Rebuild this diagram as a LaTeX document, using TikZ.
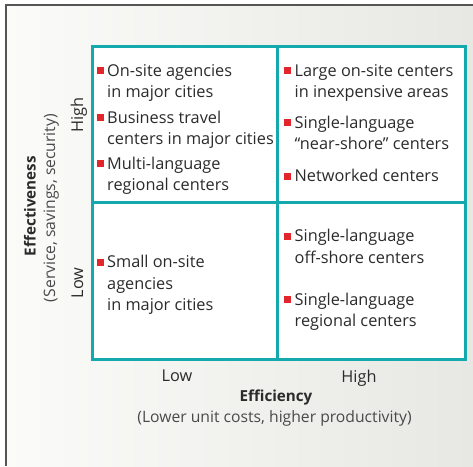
\documentclass[tikz,border=0pt]{standalone}
\usepackage{fontspec}
\setmainfont{Open Sans}
\definecolor{ink}{HTML}{2B2B2B}
\definecolor{softink}{HTML}{4A4A4A}
\definecolor{teal}{HTML}{14AAAD}
\definecolor{bulletred}{HTML}{E3262B}
\definecolor{framegray}{HTML}{555555}
\definecolor{bgleft}{HTML}{FBFBF9}
\definecolor{bgright}{HTML}{E7E7E3}
\begin{document}
\begin{tikzpicture}[x=1pt,y=-1pt,
  every node/.style={inner sep=0pt, text=ink},
  % multi-line items are placed by the baseline of their last line
  body/.style={font=\fontsize{16.3}{21.5}\selectfont, anchor=base west, align=left},
  bul/.style={fill=bulletred, minimum size=7pt, inner sep=0pt},
  axislbl/.style={font=\fontsize{16.3}{18}\selectfont, anchor=base},
  axistitle/.style={font=\fontsize{15.2}{18}\selectfont\bfseries, anchor=base},
  axissub/.style={font=\fontsize{15.7}{18}\selectfont, text=softink, anchor=base},
  gridline/.style={draw=teal, line width=3pt}]
% page and shaded panel with its frame
\useasboundingbox (0,0) rectangle (473,466);
\fill[white] (0,0) rectangle (473,466);
\shade[left color=bgleft, right color=bgright] (5,5) rectangle (473,466);
\coordinate (ftl) at (6,5);
\coordinate (ftr) at (473,5);
\coordinate (fbl) at (6,466);
\draw[framegray, line width=2pt] (fbl) -- (ftl) -- (ftr);

% 2x2 matrix
\coordinate (gtl) at (92.5,46.5);
\coordinate (gbr) at (465.5,359.5);
\coordinate (gmid) at (277.5,202.5);
\fill[white] (gtl) rectangle (gbr);
\draw[gridline] (gtl) rectangle (gbr);
\draw[gridline] (gmid |- gtl) -- (gmid |- gbr);
\draw[gridline] (gtl |- gmid) -- (gbr |- gmid);

% high effectiveness, low efficiency
\node[bul] (b1) at (100.5,70.5) {};
\node[body] (t1) at (107,97.5) {On-site agencies\\in major cities};
\node[bul] (b2) at (100.5,117.5) {};
\node[body] (t2) at (107,144.5) {Business travel\\centers in major cities};
\node[bul] (b3) at (100.5,163.5) {};
\node[body] (t3) at (107,190.5) {Multi-language\\regional centers};

% high effectiveness, high efficiency
\node[bul] (b4) at (287,70.5) {};
\node[body] (t4) at (294.5,97.5) {Large on-site centers\\in inexpensive areas};
\node[bul] (b5) at (287,122.5) {};
\node[body] (t5) at (294.5,149.5) {Single-language\\“near-shore” centers};
\node[bul] (b6) at (287,176) {};
\node[body] (t6) at (294.5,181.5) {Networked centers};

% low effectiveness, low efficiency
\node[bul] (b7) at (100.5,262.5) {};
\node[body] (t7) at (107,310.5) {Small on-site\\agencies\\in major cities};

% low effectiveness, high efficiency
\node[bul] (b8) at (287,236) {};
\node[body] (t8) at (294.5,263) {Single-language\\off-shore centers};
\node[bul] (b9) at (287,299.5) {};
\node[body] (t9) at (294.5,326.5) {Single-language\\regional centers};

% horizontal axis
\node[axislbl] (xlow) at (177,381) {Low};
\node[axislbl] (xhigh) at (359,382.5) {High};
\node[axistitle] (xtitle) at (276,401.5) {Efficiency};
\node[axissub] (xsub) at (274.5,422) {(Lower unit costs, higher productivity)};

% vertical axis
\node[axislbl, rotate=90] (yhigh) at (83,115) {High};
\node[axislbl, rotate=90] (ylow) at (83,283) {Low};
\node[axistitle, rotate=90] (ytitle) at (35.5,206) {Effectiveness};
\node[axissub, rotate=90] (ysub) at (55,208) {(Service, savings, security)};
\end{tikzpicture}
\end{document}
